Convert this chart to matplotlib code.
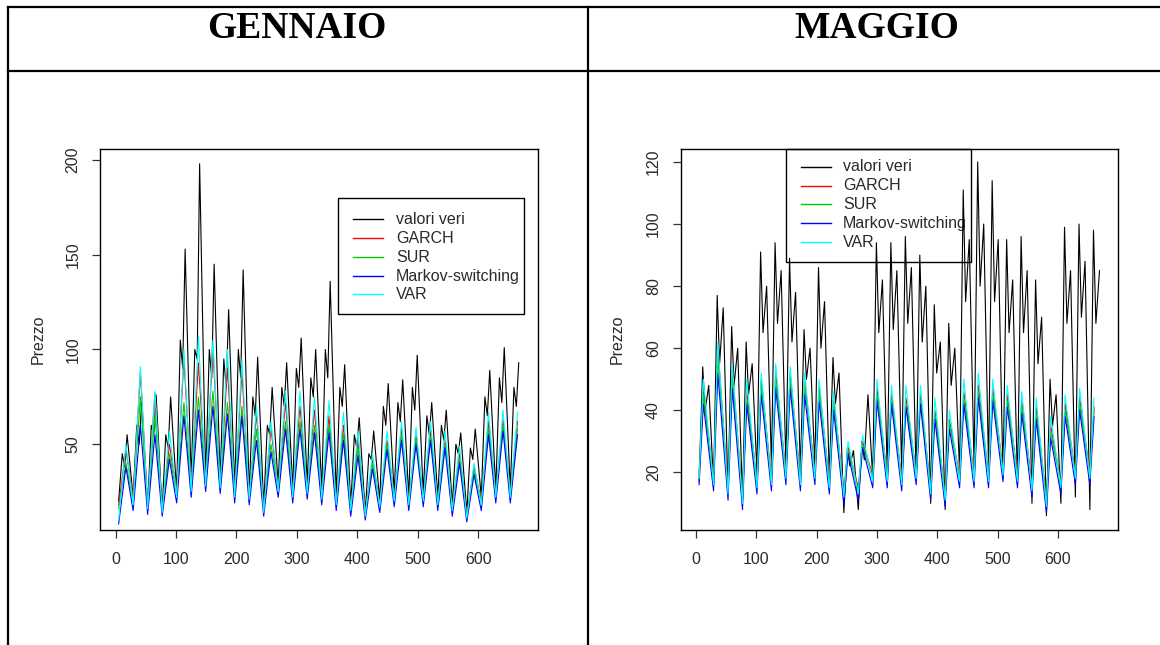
import numpy as np
import matplotlib
matplotlib.use("Agg")
import matplotlib.pyplot as plt
from matplotlib.lines import Line2D
from matplotlib.patches import Rectangle

# ---------------- data (hourly index 1..672, read per day) ----------------
n_days = 28
series_names = ["valori veri", "GARCH", "SUR", "Markov-switching", "VAR"]
series_colors = ["black", "#FF0000", "#00CC00", "#0000FF", "#00FFFF"]

# GENNAIO - real values: night low, morning, afternoon dip, evening peak
vv_low_L = [20, 22, 17, 15, 25, 30, 32, 30, 26, 24, 17, 28, 26, 28, 25, 22, 17, 14, 20, 24, 22, 24, 22, 18, 14, 22, 26, 26]
vv_am_L = [45, 60, 60, 55, 105, 100, 100, 95, 100, 75, 60, 80, 90, 85, 100, 80, 55, 45, 70, 72, 80, 65, 60, 50, 48, 75, 85, 80]
vv_dip_L = [38, 50, 55, 48, 90, 95, 85, 80, 85, 65, 55, 70, 80, 75, 85, 70, 48, 42, 60, 62, 68, 55, 52, 45, 42, 65, 72, 70]
vv_pm_L = [55, 72, 76, 75, 153, 198, 145, 121, 142, 96, 80, 93, 106, 100, 136, 92, 64, 57, 82, 84, 97, 72, 68, 56, 58, 89, 101, 93]

garch_low_L = [18, 22, 18, 16, 25, 28, 30, 28, 25, 23, 16, 27, 25, 26, 23, 20, 17, 14, 19, 22, 20, 22, 20, 17, 13, 20, 24, 24]
garch_peak_L = [47, 88, 77, 50, 95, 93, 100, 90, 88, 66, 58, 72, 70, 68, 65, 60, 52, 42, 52, 58, 55, 57, 52, 45, 38, 62, 63, 62]
sur_low_L = [16, 20, 17, 15, 23, 26, 28, 27, 23, 22, 15, 26, 23, 25, 22, 19, 16, 13, 18, 21, 19, 21, 19, 16, 12, 19, 23, 23]
sur_peak_L = [40, 75, 65, 45, 72, 75, 78, 72, 70, 58, 50, 62, 62, 60, 60, 55, 48, 40, 50, 55, 52, 54, 50, 42, 36, 58, 60, 58]
ms_low_L = [8, 15, 13, 12, 19, 22, 25, 24, 19, 18, 12, 22, 19, 21, 18, 15, 12, 10, 14, 17, 15, 17, 15, 12, 9, 15, 19, 19]
ms_peak_L = [38, 60, 55, 42, 65, 68, 70, 66, 65, 52, 46, 58, 58, 56, 56, 52, 44, 37, 47, 52, 50, 52, 48, 40, 34, 55, 57, 55]
var_low_L = [10, 18, 16, 14, 22, 25, 28, 27, 22, 21, 14, 25, 22, 24, 21, 18, 15, 12, 17, 20, 18, 20, 18, 15, 11, 18, 22, 22]
var_peak_L = [50, 91, 78, 57, 100, 107, 105, 100, 95, 70, 62, 78, 78, 75, 73, 67, 57, 45, 57, 62, 59, 62, 57, 49, 40, 67, 68, 67]

# MAGGIO - real values: night low, midday peak, afternoon dip, evening peak
vv_low_R = [17, 16, 13, 11, 20, 22, 22, 20, 22, 18, 7, 8, 18, 20, 20, 18, 10, 8, 20, 22, 22, 18, 16, 10, 6, 10, 12, 8]
vv_am_R = [54, 77, 67, 62, 91, 94, 89, 66, 86, 57, 28, 30, 94, 94, 96, 90, 74, 68, 111, 120, 114, 95, 96, 82, 50, 99, 100, 98]
vv_dip_R = [40, 55, 48, 45, 65, 68, 62, 50, 60, 42, 22, 24, 65, 66, 68, 62, 52, 48, 75, 80, 75, 65, 65, 55, 35, 68, 70, 68]
vv_pm_R = [48, 73, 60, 55, 80, 85, 78, 60, 75, 52, 27, 45, 82, 85, 86, 80, 62, 60, 95, 100, 95, 82, 85, 70, 45, 85, 88, 85]

garch_low_R = [20, 18, 15, 12, 17, 18, 20, 18, 20, 17, 14, 15, 19, 19, 18, 20, 15, 13, 19, 19, 19, 21, 19, 16, 11, 17, 20, 20]
garch_peak_R = [46, 60, 53, 46, 50, 52, 52, 50, 48, 44, 28, 30, 47, 45, 44, 45, 40, 37, 46, 48, 47, 45, 43, 41, 35, 42, 44, 41]
sur_low_R = [19, 17, 14, 11, 16, 17, 19, 17, 19, 16, 13, 14, 18, 18, 17, 19, 14, 12, 18, 18, 18, 20, 18, 15, 10, 16, 19, 19]
sur_peak_R = [45, 57, 50, 44, 48, 50, 50, 48, 46, 42, 27, 29, 45, 43, 42, 43, 39, 36, 44, 46, 45, 43, 41, 39, 33, 40, 42, 40]
ms_low_R = [16, 14, 11, 8, 13, 14, 16, 14, 16, 13, 10, 11, 15, 15, 14, 16, 11, 9, 15, 15, 15, 17, 15, 12, 7, 13, 16, 16]
ms_peak_R = [42, 52, 47, 42, 45, 47, 47, 45, 43, 40, 26, 28, 43, 42, 41, 42, 37, 34, 42, 44, 43, 41, 39, 37, 31, 38, 40, 38]
var_low_R = [18, 16, 13, 10, 15, 16, 18, 16, 18, 15, 12, 13, 17, 17, 16, 18, 13, 11, 17, 17, 17, 19, 17, 14, 9, 15, 18, 18]
var_peak_R = [50, 62, 55, 50, 52, 55, 54, 52, 50, 46, 30, 32, 50, 48, 48, 48, 44, 40, 50, 52, 50, 48, 46, 44, 38, 45, 47, 44]

titles = ["GENNAIO", "MAGGIO"]
x_ticks = [0, 100, 200, 300, 400, 500, 600]
y_ticks_L = [50, 100, 150, 200]
y_ticks_R = [20, 40, 60, 80, 100, 120]

# hours of day at which values were read
black_hours_L = [5, 11, 15, 19]
black_hours_R = [5, 11, 15, 21]
fc_hours_L = [5, 17]
fc_hours_R = [5, 12]

# ---------------- figure ----------------
W, H = 1160, 645
fig = plt.figure(figsize=(W / 100, H / 100), dpi=100)
fig.patch.set_facecolor("white")


def fx(x):
    return x / W


def fy(y):
    return 1 - y / H


def daily(hours_of_day, *cols):
    d = np.arange(n_days)
    hrs = (24 * d[:, None] + np.array(hours_of_day)[None, :]).ravel()
    vals = np.column_stack(cols).ravel()
    return hrs, vals


# table borders
lw_tab = 1.6
for (x0, y0, x1, y1) in [(8, 7, 1160, 7), (8, 71, 1160, 71), (8, 7, 8, 645), (588, 7, 588, 645)]:
    fig.add_artist(Line2D([fx(x0), fx(x1)], [fy(y0), fy(y1)], color="black", lw=lw_tab,
                          transform=fig.transFigure))

title_kw = dict(ha="center", va="center", family="Liberation Serif", fontweight="bold", fontsize=27)
fig.text(fx(297), fy(29), titles[0], **title_kw)
fig.text(fx(877), fy(29), titles[1], **title_kw)

panels = [
    dict(box=(100, 149, 538, 530), ylim=(4.75, 205.8), yticks=y_ticks_L, ylab_x=38,
         black=(black_hours_L, vv_low_L, vv_am_L, vv_dip_L, vv_pm_L),
         fc_hours=fc_hours_L,
         fc=[(garch_low_L, garch_peak_L), (sur_low_L, sur_peak_L), (ms_low_L, ms_peak_L), (var_low_L, var_peak_L)],
         leg_box=(338, 198, 524, 314), leg_line=(353, 383), leg_text=396,
         leg_rows=[219.3, 238.3, 257, 276, 294.3]),
    dict(box=(680.5, 149, 1117.5, 530), ylim=(1.4, 124.2), yticks=y_ticks_R, ylab_x=617,
         black=(black_hours_R, vv_low_R, vv_am_R, vv_dip_R, vv_pm_R),
         fc_hours=fc_hours_R,
         fc=[(garch_low_R, garch_peak_R), (sur_low_R, sur_peak_R), (ms_low_R, ms_peak_R), (var_low_R, var_peak_R)],
         leg_box=(786, 149, 971, 262), leg_line=(801, 831), leg_text=843,
         leg_rows=[166.7, 185.7, 204.3, 223.3, 242.3]),
]

txt_col = "#2a2a2a"
for p in panels:
    L, T, R, B = p["box"]
    ax = fig.add_axes([fx(L), fy(B), (R - L) / W, (B - T) / H])
    ax.set_xlim(1 - 0.04 * 671, 672 + 0.04 * 671)
    ax.set_ylim(*p["ylim"])

    hrs, vals = daily(p["black"][0], *p["black"][1:])
    ax.plot(hrs, vals, color=series_colors[0], lw=0.8, zorder=2)
    for (lo, pk), col in zip(p["fc"], series_colors[1:]):
        h2, v2 = daily(p["fc_hours"], lo, pk)
        ax.plot(h2, v2, color=col, lw=0.8, zorder=2)

    ax.set_xticks(x_ticks)
    ax.set_yticks(p["yticks"])
    ax.set_xticklabels([str(t) for t in x_ticks])
    ax.set_yticklabels([str(t) for t in p["yticks"]], rotation=90, va="center")
    ax.tick_params(axis="both", direction="out", length=6, width=0.9, color="#333333",
                   labelsize=11.5, labelcolor=txt_col)
    ax.tick_params(axis="x", pad=10)
    ax.tick_params(axis="y", pad=8)
    for tl in ax.get_xticklabels() + ax.get_yticklabels():
        tl.set_family("Liberation Sans")
    for s in ax.spines.values():
        s.set_linewidth(1.0)
        s.set_color("black")

    fig.text(fx(p["ylab_x"]), fy((T + B) / 2), "Prezzo", rotation=90, ha="center", va="center",
             family="Liberation Sans", fontsize=11.5, color=txt_col)

    # legend drawn inside the axes, beneath the data lines
    def ax_x(x):
        return (x - L) / (R - L)

    def ax_y(y):
        return (B - y) / (B - T)

    lx0, ly0, lx1, ly1 = p["leg_box"]
    ax.add_patch(Rectangle((ax_x(lx0), ax_y(ly1)), ax_x(lx1) - ax_x(lx0), ax_y(ly0) - ax_y(ly1),
                           transform=ax.transAxes, facecolor="none", edgecolor="black", lw=1.0,
                           zorder=1, clip_on=False))
    for name, col, ry in zip(series_names, series_colors, p["leg_rows"]):
        ax.add_line(Line2D([ax_x(p["leg_line"][0]), ax_x(p["leg_line"][1])], [ax_y(ry), ax_y(ry)],
                           transform=ax.transAxes, color=col, lw=1.0, zorder=1, clip_on=False))
        ax.text(ax_x(p["leg_text"]), ax_y(ry), name, transform=ax.transAxes, ha="left", va="center",
                family="Liberation Sans", fontsize=11.5, color=txt_col, zorder=1)

fig.savefig("out.png", dpi=100, facecolor="white")
